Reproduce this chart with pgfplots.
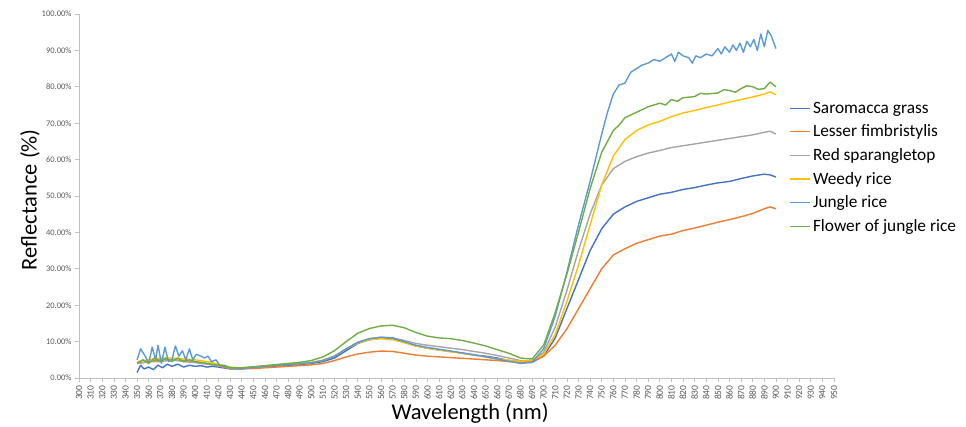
\documentclass[border=0pt]{standalone}
\usepackage{fontspec}
\setmainfont{Carlito}
\usepackage{pgfplots}
\pgfplotsset{compat=1.18}

\definecolor{cSar}{HTML}{4472C4}
\definecolor{cLes}{HTML}{ED7D31}
\definecolor{cRed}{HTML}{A5A5A5}
\definecolor{cWee}{HTML}{FFC000}
\definecolor{cJun}{HTML}{5B9BD5}
\definecolor{cFlo}{HTML}{70AD47}
\definecolor{axgray}{HTML}{BFBFBF}
\definecolor{lblgray}{HTML}{595959}

\begin{document}
\begin{tikzpicture}
\useasboundingbox (0,0) rectangle (966pt,427pt);
\begin{axis}[
    at={(79pt,49pt)}, anchor=south west,
    scale only axis, width=755pt, height=364pt,
    xmin=300, xmax=950, ymin=0, ymax=100,
    axis x line*=bottom, axis y line*=left,
    axis line style={axgray, line width=0.8pt},
    tick style={axgray, line width=0.6pt},
    tick align=outside, major tick length=4pt,
    xtick={300,310,...,950},
    ytick={0,10,...,100},
    /pgf/number format/assume math mode=true,
    x tick label style={rotate=90, anchor=east, font=\fontsize{9.5}{10}\selectfont, text=lblgray},
    y tick label style={font=\fontsize{8.5}{9}\selectfont, text=lblgray},
    xticklabel={\pgfmathprintnumber[int detect]{\tick}},
    yticklabel={\pgfmathprintnumber[fixed,fixed zerofill,precision=2]{\tick}\%},
    xlabel={Wavelength (nm)},
    ylabel={Reflectance (\%)},
    xlabel style={at={(axis description cs:0.518,-0.096)}, anchor=center, font=\fontsize{22.5}{24}\selectfont},
    ylabel style={at={(axis description cs:-0.065,0.49)}, anchor=center, font=\fontsize{22.5}{24}\selectfont},
    legend style={at={(axis description cs:0.937,0.770)}, anchor=north west,
        draw=none, fill=none, font=\fontsize{17.3}{19}\selectfont, row sep=6.2pt},
    legend cell align=left,
    legend image code/.code={\draw[#1, line width=1.4pt] (0pt,0pt) -- (20pt,0pt);},
    every axis plot/.append style={line width=1.4pt, line join=round},
    clip=false,
]
% Saromacca grass
\addplot[cSar] coordinates {
(350,1.5) (353,3.5) (356,2.5) (360,3) (364,2.3) (368,3.5) (372,2.8) (376,3.8) (380,3.2) (385,3.8) (390,3) (395,3.5) (400,3.2) (405,3.4) (410,3) (415,3.2) (420,3) (430,2.5) (440,2.5) (450,2.8) (460,3) (470,3.3) (480,3.5) (490,3.7) (500,4) (510,4.5) (520,5.5) (530,7.5) (540,9.5) (550,10.5) (560,11) (570,10.8) (580,9.8) (590,8.8) (600,8.2) (610,7.7) (620,7.3) (630,6.8) (640,6.3) (650,6) (660,5.5) (670,4.8) (680,4.2) (690,4.3) (700,6) (710,11) (720,19) (730,27) (740,35) (750,41) (760,45) (770,47) (780,48.5) (790,49.5) (800,50.5) (810,51) (820,51.8) (830,52.3) (840,53) (850,53.6) (860,54) (870,54.8) (880,55.5) (890,56) (895,55.8) (900,55.2)
};
\addlegendentry{Saromacca grass}
% Lesser fimbristylis
\addplot[cLes] coordinates {
(350,4) (360,4.5) (370,5) (380,5) (390,4.8) (400,4.5) (410,4) (420,3.3) (430,2.6) (440,2.5) (450,2.6) (460,2.8) (470,3) (480,3.2) (490,3.4) (500,3.6) (510,4) (520,4.8) (530,5.8) (540,6.6) (550,7.1) (560,7.4) (570,7.3) (580,6.8) (590,6.3) (600,6) (610,5.8) (620,5.6) (630,5.4) (640,5.2) (650,5) (660,4.8) (670,4.5) (680,4.3) (690,4.6) (700,6) (710,9) (720,13.5) (730,19) (740,24.5) (750,30) (760,33.8) (770,35.5) (780,37) (790,38) (800,39) (810,39.5) (820,40.5) (830,41.2) (840,42) (850,42.8) (860,43.5) (870,44.3) (880,45.2) (890,46.5) (895,47) (900,46.5)
};
\addlegendentry{Lesser fimbristylis}
% Red sparangletop
\addplot[cRed] coordinates {
(350,4) (360,4.5) (370,4.5) (380,5) (390,4.5) (400,4.2) (410,3.8) (420,3.3) (430,2.8) (440,2.7) (450,2.9) (460,3.2) (470,3.5) (480,3.7) (490,3.9) (500,4.2) (510,4.8) (520,6) (530,8) (540,9.8) (550,10.8) (560,11.2) (570,11) (580,10.3) (590,9.5) (600,9) (610,8.6) (620,8.2) (630,7.8) (640,7.3) (650,6.8) (660,6.2) (670,5.5) (680,4.8) (690,4.8) (700,7) (710,14) (720,24) (730,35) (740,45) (750,53) (760,57.5) (770,59.5) (780,60.8) (790,61.8) (800,62.5) (810,63.3) (820,63.8) (830,64.3) (840,64.8) (850,65.3) (860,65.8) (870,66.3) (880,66.8) (890,67.5) (895,67.8) (900,67)
};
\addlegendentry{Red sparangletop}
% Weedy rice
\addplot[cWee] coordinates {
(350,4.5) (360,5) (370,5.5) (380,5.5) (390,5.2) (400,5) (410,4.5) (420,3.8) (430,3) (440,2.8) (450,3) (460,3.3) (470,3.6) (480,3.8) (490,4) (500,4.3) (510,4.9) (520,6) (530,8) (540,9.6) (550,10.5) (560,10.8) (570,10.5) (580,9.7) (590,8.8) (600,8.2) (610,7.7) (620,7.2) (630,6.8) (640,6.3) (650,5.8) (660,5.3) (670,4.9) (680,4.6) (690,4.8) (700,6.5) (710,12) (720,21) (730,31) (740,42) (750,53) (760,61) (770,65.5) (780,68) (790,69.5) (800,70.5) (810,71.8) (820,72.8) (830,73.5) (840,74.3) (850,75) (860,75.8) (870,76.5) (880,77.2) (890,78) (895,78.6) (900,77.8)
};
\addlegendentry{Weedy rice}
% Jungle rice
\addplot[cJun] coordinates {
(350,5) (353,8) (357,6) (360,4) (363,8.5) (366,5) (368,9) (371,4) (374,8.5) (377,4.5) (380,5) (383,8.8) (386,6) (389,7.5) (392,5) (395,8) (398,5) (401,6.5) (405,6) (408,5.5) (411,6) (414,4.5) (418,5) (421,3.5) (425,3.5) (430,2.8) (440,2.6) (450,2.9) (460,3.2) (470,3.5) (480,3.7) (490,3.9) (500,4.2) (510,4.8) (520,6) (530,8) (540,9.8) (550,10.8) (560,11.2) (570,11) (580,10) (590,9) (600,8.4) (610,7.9) (620,7.4) (630,6.9) (640,6.4) (650,5.8) (660,5.2) (670,4.6) (680,4) (690,4.3) (700,8) (710,17) (720,29) (730,42) (740,54) (750,67) (755,73) (760,78) (765,80.5) (770,81) (775,84) (780,85) (785,86) (790,86.5) (795,87.5) (800,87) (805,88) (810,89) (813,87) (816,89.5) (820,88.5) (825,88) (828,86.5) (831,88.5) (835,88) (840,89) (845,88.5) (850,90.5) (853,89) (856,91) (860,89.5) (863,91.5) (866,90) (869,92) (872,89.5) (875,92.5) (878,91) (881,93) (884,90) (887,94.5) (890,91) (893,95.5) (896,94) (900,90.5)
};
\addlegendentry{Jungle rice}
% Flower of jungle rice
\addplot[cFlo] coordinates {
(350,4) (355,5) (360,4) (365,5.5) (370,4.5) (375,5.5) (380,4.5) (385,5.5) (390,4.5) (395,5) (400,4.5) (410,4) (420,3.5) (430,2.8) (440,2.8) (450,3.1) (460,3.4) (470,3.7) (480,4) (490,4.3) (500,4.8) (510,5.8) (520,7.5) (530,10) (540,12.3) (550,13.6) (560,14.3) (570,14.5) (580,13.8) (590,12.5) (600,11.5) (610,11) (620,10.8) (630,10.3) (640,9.6) (650,8.8) (660,7.8) (670,6.8) (680,5.5) (690,5.2) (700,9) (710,18) (720,28.5) (730,40) (740,52) (750,62) (760,68) (765,69.5) (770,71.5) (780,73) (790,74.5) (800,75.5) (805,75) (810,76.5) (815,76) (820,77) (830,77.3) (835,78.2) (840,78) (850,78.3) (855,79.2) (860,79) (865,78.5) (870,79.5) (875,80.3) (880,80) (885,79.3) (890,79.5) (895,81.3) (900,80)
};
\addlegendentry{Flower of jungle rice}
\end{axis}
\end{tikzpicture}
\end{document}
